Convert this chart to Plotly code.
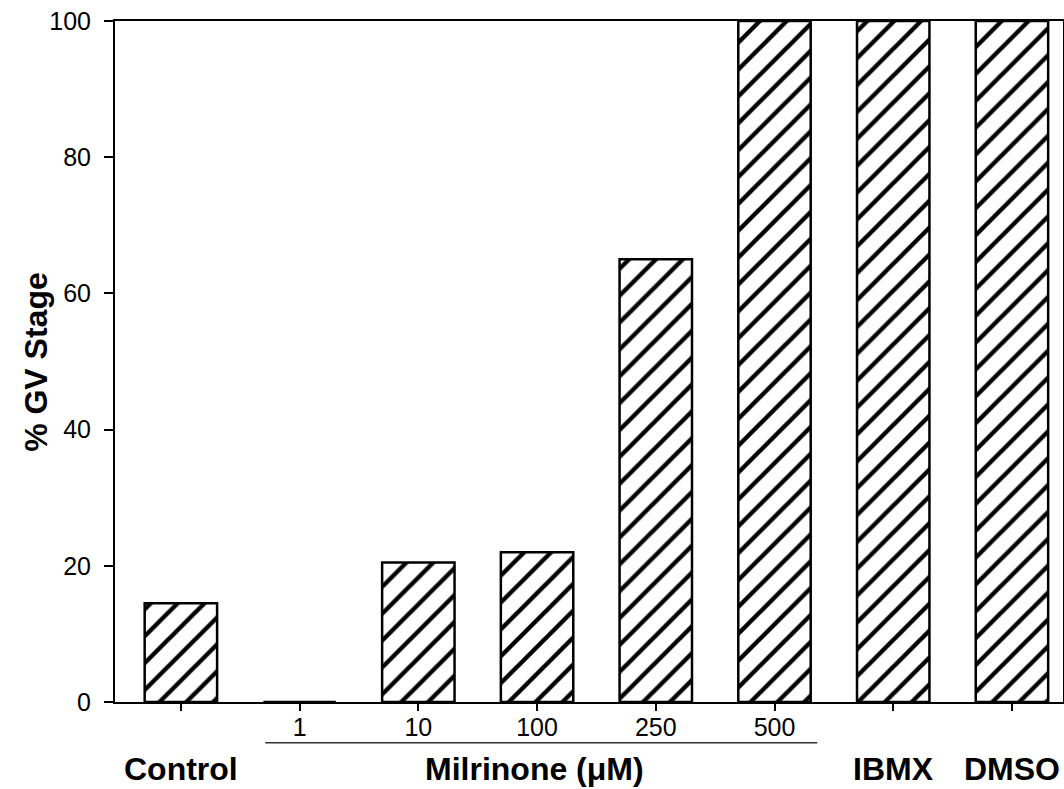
import plotly.graph_objects as go

categories = ["Control", "1", "10", "100", "250", "500", "IBMX", "DMSO"]
tick_labels = ["", "1", "10", "100", "250", "500", "", ""]
values = [14.5, 0, 20.5, 22.0, 65.0, 100, 100, 100]
y_ticks = [0, 20, 40, 60, 80, 100]
group_labels = ["Control", "Milrinone (\u03bcM)", "IBMX", "DMSO"]
group_positions = [0, 2.98, 6, 7]
y_title = "% GV Stage"

x_idx = list(range(len(categories)))
FONT = "Arial, Liberation Sans, sans-serif"

fig = go.Figure()
fig.add_trace(go.Bar(
    x=x_idx, y=values, width=0.61,
    marker=dict(
        color="white",
        line=dict(color="black", width=2.5),
        pattern=dict(shape="/", fgcolor="black", bgcolor="white", size=19,
                     solidity=0.23, fgopacity=1),
    ),
    hovertext=categories,
))

fig.update_layout(
    width=1064, height=789,
    margin=dict(l=115, r=1, t=21, b=87),
    plot_bgcolor="white", paper_bgcolor="white",
    showlegend=False,
    font=dict(family=FONT, color="black", size=25),
    xaxis=dict(
        range=[-0.555, 7.43], tickmode="array", tickvals=x_idx, ticktext=tick_labels,
        showline=True, linecolor="black", linewidth=2, mirror=True,
        ticks="outside", ticklen=7, tickwidth=1.5, tickcolor="black",
        showgrid=False, zeroline=False, tickfont=dict(size=25), ticklabelstandoff=-5,
        automargin=False,
    ),
    yaxis=dict(
        range=[0, 100], tickmode="array", tickvals=y_ticks,
        showline=True, linecolor="black", linewidth=2, mirror=True,
        ticks="outside", ticklen=9, tickwidth=1.5, tickcolor="black",
        showgrid=False, zeroline=False, tickfont=dict(size=25), ticklabelstandoff=8,
        automargin=False,
    ),
)

fig.add_annotation(
    x=-0.084, xref="paper", y=0.5, yref="paper", text="<b>" + y_title + "</b>",
    textangle=-90, showarrow=False, font=dict(size=32, family=FONT),
    xanchor="center", yanchor="middle",
)

for lab, pos in zip(group_labels, group_positions):
    fig.add_annotation(
        x=pos, xref="x", y=-0.098, yref="paper", text="<b>" + lab + "</b>",
        showarrow=False, font=dict(size=32, family=FONT), yanchor="middle",
    )

# line under the milrinone concentrations
fig.add_shape(type="line", xref="x", yref="paper", x0=0.71, x1=5.36, y0=-0.06, y1=-0.06,
              line=dict(color="#333333", width=1.5))

fig.write_html("out.html", config={"displayModeBar": False},
               post_script="document.body.style.margin='0px';")
